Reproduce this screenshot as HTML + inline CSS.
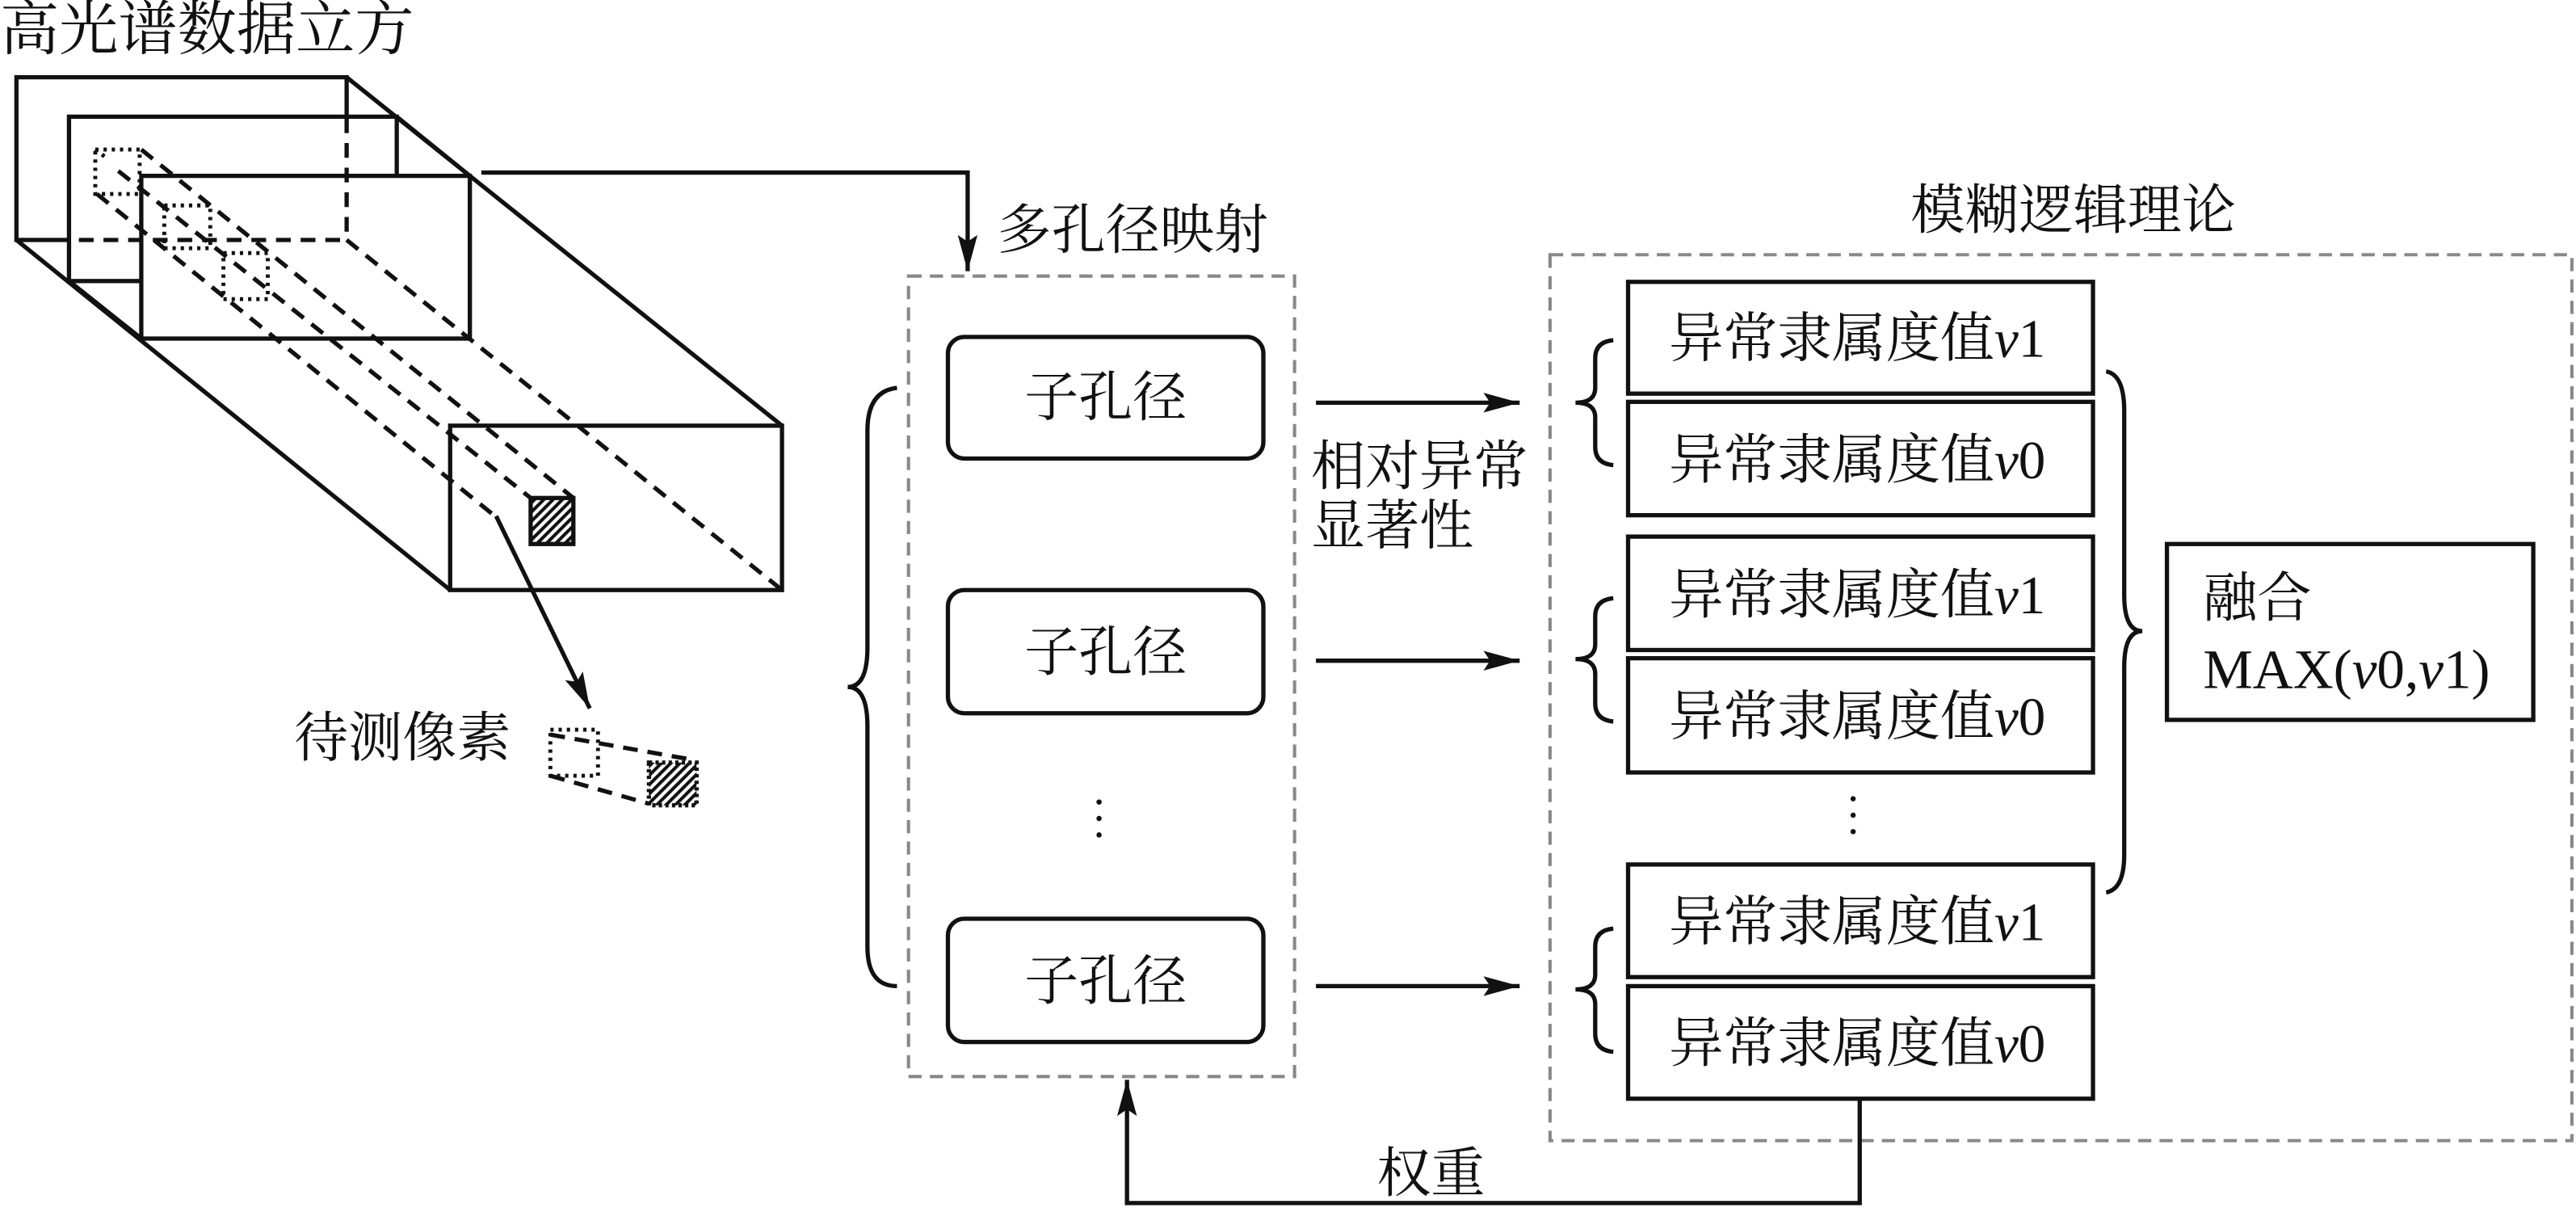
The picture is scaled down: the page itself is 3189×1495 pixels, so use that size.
<!DOCTYPE html>
<html><head><meta charset="utf-8"><style>
html,body{margin:0;padding:0;background:#fff;}
svg{display:block;}
text{font-family:"Liberation Serif","Noto Serif CJK SC",serif;fill:#111;}
</style></head><body>
<svg width="3189" height="1495" viewBox="0 0 1568 735" preserveAspectRatio="none" xmlns="http://www.w3.org/2000/svg">
<defs>
<pattern id="h" width="4" height="4" patternUnits="userSpaceOnUse" patternTransform="rotate(45)">
<rect width="4" height="4" fill="#fff"/><rect width="2" height="4" fill="#111"/></pattern>
<marker id="a2" markerWidth="22" markerHeight="12" refX="22" refY="6" orient="auto" markerUnits="userSpaceOnUse"><path d="M0,0 L22,6 L0,12 L4,6 Z" fill="#111"/></marker>
</defs>
<g stroke="#111" stroke-width="2.6" fill="none">
<line x1="211" y1="47" x2="476" y2="259"/>
<line x1="10" y1="146" x2="274" y2="359"/>
<rect x="10" y="47" width="201" height="99" fill="#fff"/>
<rect x="42" y="71" width="199.5" height="100" fill="#fff"/>
<line x1="241.5" y1="71" x2="286" y2="107"/>
<line x1="42" y1="171" x2="86" y2="206"/>
<rect x="86" y="107" width="200" height="99" fill="#fff"/>
<g stroke-dasharray="9,6">
<line x1="211" y1="72" x2="211" y2="146"/>
<line x1="48" y1="146" x2="211" y2="146"/>
<line x1="211" y1="146" x2="476" y2="359"/>
<line x1="86" y1="91" x2="349" y2="303"/>
<line x1="59" y1="118" x2="300" y2="313"/>
<line x1="72" y1="104" x2="323" y2="303"/>
</g>
<rect x="274" y="259" width="202" height="100"/>
<g stroke-dasharray="2,3" stroke-width="2.4">
<rect x="58" y="91" width="27" height="27"/><line x1="58" y1="91" x2="66" y2="97"/>
<rect x="100" y="125" width="28" height="26"/>
<rect x="136" y="154" width="27" height="28"/>
<rect x="335" y="444" width="29" height="28"/>
</g>
<rect x="323" y="303" width="26" height="28" fill="url(#h)"/>
<rect x="395" y="464" width="29" height="26" fill="url(#h)" stroke-dasharray="2,2"/>
<g stroke-dasharray="9,6">
<line x1="335" y1="447" x2="420" y2="462"/>
<line x1="335" y1="472" x2="395" y2="489"/>
</g>
<line x1="302" y1="314" x2="359" y2="431" marker-end="url(#a2)"/>
<polyline points="293,105 589,105 589,165" marker-end="url(#a2)"/>
<rect x="553" y="168" width="235" height="487" stroke="#888" stroke-width="2" stroke-dasharray="8,5"/>
<rect x="943.5" y="155" width="622" height="539" stroke="#888" stroke-width="2" stroke-dasharray="8,5"/>
<rect x="577" y="205" width="192" height="74" rx="10"/>
<rect x="577" y="359" width="192" height="75" rx="10"/>
<rect x="577" y="559" width="192" height="75" rx="10"/>
<path d="M546,236 Q528,238 528,262 L528,394 Q528,418 516,418 Q528,418 528,442 L528,576 Q528,600 546,600"/>
<line x1="801" y1="245" x2="925" y2="245" marker-end="url(#a2)"/>
<line x1="801" y1="402" x2="925" y2="402" marker-end="url(#a2)"/>
<line x1="801" y1="600" x2="925" y2="600" marker-end="url(#a2)"/>
<rect x="991" y="171.5" width="283" height="68"/>
<rect x="991" y="244.5" width="283" height="69"/>
<rect x="991" y="326.5" width="283" height="69"/>
<rect x="991" y="400.5" width="283" height="69.5"/>
<rect x="991" y="526" width="283" height="68.5"/>
<rect x="991" y="600" width="283" height="68.5"/>
<path d="M982,207 Q971,208 971,218 L971,236 Q971,245 959,245 Q971,245 971,254 L971,272 Q971,282 982,283"/>
<path d="M982,364 Q971,365 971,375 L971,392 Q971,401 959,401 Q971,401 971,410 L971,428 Q971,438 982,439"/>
<path d="M982,565 Q971,566 971,576 L971,593 Q971,602 959,602 Q971,602 971,611 L971,629 Q971,639 982,640"/>
<path d="M1282,226 Q1293,228 1293,250 L1293,362 Q1293,384 1304,384 Q1293,384 1293,406 L1293,520 Q1293,541 1282,543"/>
<rect x="1319" y="331" width="223" height="107"/>
<polyline points="1132,669 1132,732 686,732 686,657" marker-end="url(#a2)"/>
</g>
<g fill="#111">
<circle cx="669" cy="488" r="1.6"/><circle cx="669" cy="498" r="1.6"/><circle cx="669" cy="508" r="1.6"/>
<circle cx="1128" cy="486" r="1.6"/><circle cx="1128" cy="496" r="1.6"/><circle cx="1128" cy="506" r="1.6"/>
</g>
<g font-size="33" dominant-baseline="central">
<text x="0" y="18" font-size="36">高光谱数据立方</text>
<text x="179" y="449">待测像素</text>
<text x="607" y="140">多孔径映射</text>
<text x="1163" y="128">模糊逻辑理论</text>
<text x="673" y="242" text-anchor="middle">子孔径</text>
<text x="673" y="397" text-anchor="middle">子孔径</text>
<text x="673" y="597" text-anchor="middle">子孔径</text>
<text x="798" y="284">相对异常</text>
<text x="798" y="320">显著性</text>
<text x="1016" y="206">异常隶属度值<tspan font-style="italic">v</tspan>1</text>
<text x="1016" y="280">异常隶属度值<tspan font-style="italic">v</tspan>0</text>
<text x="1016" y="362">异常隶属度值<tspan font-style="italic">v</tspan>1</text>
<text x="1016" y="436">异常隶属度值<tspan font-style="italic">v</tspan>0</text>
<text x="1016" y="561">异常隶属度值<tspan font-style="italic">v</tspan>1</text>
<text x="1016" y="635">异常隶属度值<tspan font-style="italic">v</tspan>0</text>
<text x="1341" y="364">融合</text>
<text x="1341" y="407" font-size="34">MAX(<tspan font-style="italic">v</tspan>0,<tspan font-style="italic">v</tspan>1)</text>
<text x="838" y="714">权重</text>
</g>
</svg>
</body></html>
